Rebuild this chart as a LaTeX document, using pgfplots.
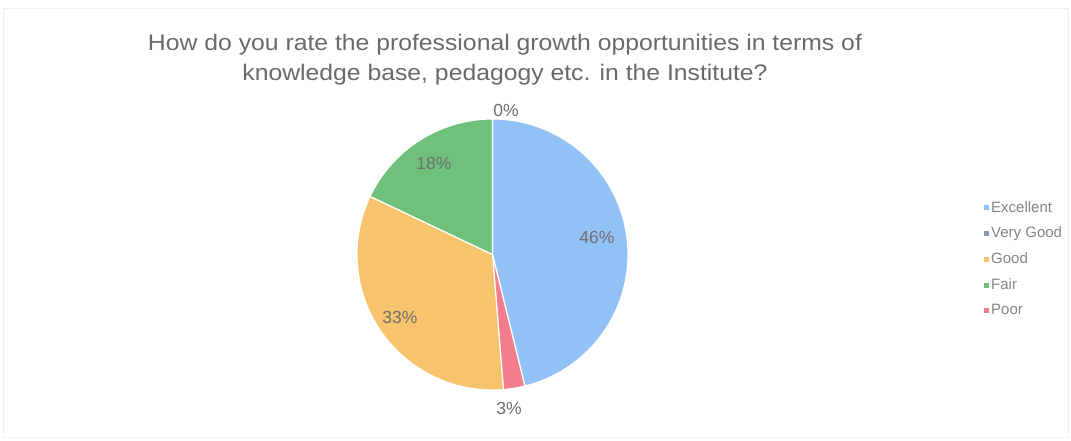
\documentclass[border=0pt]{standalone}
\usepackage{pgfplots}
\pgfplotsset{compat=1.18}
\usepackage{pgfplotstable}
\usepackage{fontspec}
\setmainfont{Liberation Sans}
\definecolor{cblue}{HTML}{92C2F5}
\definecolor{corange}{HTML}{F7C36C}
\definecolor{cgreen}{HTML}{6EC07B}
\definecolor{cpink}{HTML}{F37D8C}
\definecolor{cslate}{HTML}{8A97AE}
\definecolor{ctitle}{HTML}{6A6A6A}
\definecolor{clabel}{HTML}{6E6E6E}
\definecolor{clegend}{HTML}{858585}
% counts of responses, in the order drawn clockwise from 12 o'clock
\pgfplotstableread{
label count
Excellent 18
Poor 1
Good 13
Fair 7
VeryGood 0
}\piedata
\begin{document}
\begin{tikzpicture}
\pgfplotstablegetelem{0}{count}\of\piedata \let\cA\pgfplotsretval
\pgfplotstablegetelem{1}{count}\of\piedata \let\cB\pgfplotsretval
\pgfplotstablegetelem{2}{count}\of\piedata \let\cC\pgfplotsretval
\pgfplotstablegetelem{3}{count}\of\piedata \let\cD\pgfplotsretval
\pgfplotstablegetelem{4}{count}\of\piedata \let\cE\pgfplotsretval
\pgfmathsetmacro{\tot}{\cA+\cB+\cC+\cD+\cE}
\pgfmathsetmacro{\aZ}{90}
\pgfmathsetmacro{\aA}{\aZ-360*\cA/\tot}
\pgfmathsetmacro{\aB}{\aA-360*\cB/\tot}
\pgfmathsetmacro{\aC}{\aB-360*\cC/\tot}
\pgfmathsetmacro{\aD}{\aC-360*\cD/\tot}
\begin{axis}[
  scale only axis, width=1071pt, height=441pt,
  xmin=0, xmax=1071, ymin=0, ymax=441,
  hide axis, clip=false,
  legend style={draw=none, fill=none, at={(axis cs:984,242)}, anchor=north west,
    font=\fontsize{15}{17}\selectfont\color{clegend}, row sep=9.5pt,
    legend cell align=left, inner sep=0pt,
    nodes={inner xsep=3pt}},
]
\path[fill=white] (axis cs:0,0) rectangle (axis cs:1071,441);
\draw[gray!12, line width=1pt] (axis cs:3,3) rectangle (axis cs:1068,432);
\addlegendimage{only marks, mark=square*, mark size=2pt, mark options={draw=cblue, fill=cblue}}
\addlegendentry{Excellent}
\addlegendimage{only marks, mark=square*, mark size=2pt, mark options={draw=cslate, fill=cslate}}
\addlegendentry{Very Good}
\addlegendimage{only marks, mark=square*, mark size=2pt, mark options={draw=corange, fill=corange}}
\addlegendentry{Good}
\addlegendimage{only marks, mark=square*, mark size=2pt, mark options={draw=cgreen, fill=cgreen}}
\addlegendentry{Fair}
\addlegendimage{only marks, mark=square*, mark size=2pt, mark options={draw=cpink, fill=cpink}}
\addlegendentry{Poor}
% wedges
\fill[cblue, draw=white, line width=1.2pt] (axis cs:492.5,186.5) -- ++(\aZ:135.5pt) arc[start angle=\aZ, end angle=\aA, radius=135.5pt] -- cycle;
\fill[cpink, draw=white, line width=1.2pt] (axis cs:492.5,186.5) -- ++(\aA:135.5pt) arc[start angle=\aA, end angle=\aB, radius=135.5pt] -- cycle;
\fill[corange, draw=white, line width=1.2pt] (axis cs:492.5,186.5) -- ++(\aB:135.5pt) arc[start angle=\aB, end angle=\aC, radius=135.5pt] -- cycle;
\fill[cgreen, draw=white, line width=1.2pt] (axis cs:492.5,186.5) -- ++(\aC:135.5pt) arc[start angle=\aC, end angle=\aD, radius=135.5pt] -- cycle;
% labels
\node[text=clabel, font=\fontsize{17.5}{19}\selectfont] at (axis cs:597,204) {46\%};
\node[text=clabel, font=\fontsize{17.5}{19}\selectfont] at (axis cs:434,278) {18\%};
\node[text=clabel, font=\fontsize{17.5}{19}\selectfont] at (axis cs:400,124) {33\%};
\node[text=clabel, font=\fontsize{17.5}{19}\selectfont] at (axis cs:506,331) {0\%};
\node[text=clabel, font=\fontsize{17.5}{19}\selectfont] at (axis cs:509,33) {3\%};
% title
\node[text=ctitle, font=\fontsize{22.5}{30}\selectfont, align=center, anchor=center, xscale=1.1] at (axis cs:505,381) {How do you rate the professional growth opportunities in terms of\\knowledge base, pedagogy etc. in the Institute?};
\end{axis}
\end{tikzpicture}
\end{document}
